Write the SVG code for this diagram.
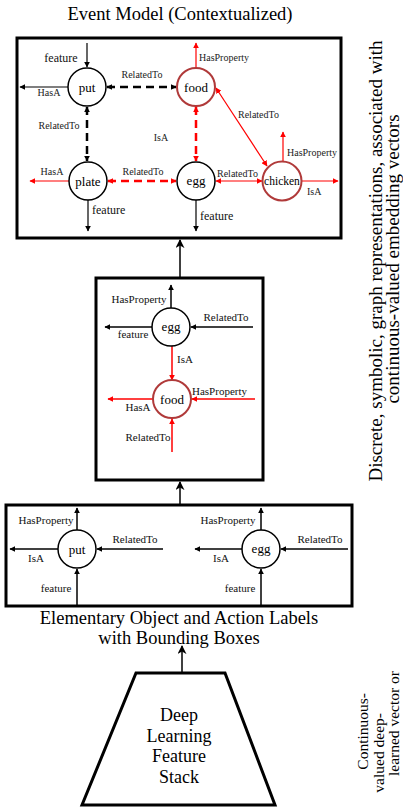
<svg xmlns="http://www.w3.org/2000/svg" width="403" height="808" viewBox="0 0 403 808">
<defs>
<marker id="ab" viewBox="0 0 10 10" refX="9" refY="5" markerWidth="6" markerHeight="6" markerUnits="userSpaceOnUse" orient="auto-start-reverse"><path d="M0,0 L10,5 L0,10 z" fill="#000"/></marker>
<marker id="ar" viewBox="0 0 10 10" refX="9" refY="5" markerWidth="6" markerHeight="6" markerUnits="userSpaceOnUse" orient="auto-start-reverse"><path d="M0,0 L10,5 L0,10 z" fill="#ff0000"/></marker>
<marker id="abig" viewBox="0 0 10 10" refX="9" refY="5" markerWidth="9" markerHeight="9" markerUnits="userSpaceOnUse" orient="auto-start-reverse"><path d="M0,0 L10,5 L0,10 L3,5 z" fill="#000"/></marker>
</defs>
<style>
text{font-family:"Liberation Serif","Times New Roman",serif;fill:#000}
.big{font-size:18.5px;text-anchor:middle}
.nl{font-size:13px;text-anchor:middle}
.el{font-size:10px;fill:#222}
.em{font-size:11px;fill:#111}
.fl{font-size:12px;fill:#111}
.m{text-anchor:middle}
.box{fill:none;stroke:#000;stroke-width:3}
.nb{fill:#fff;stroke:#000;stroke-width:1.5}
.nr{fill:#fff;stroke:#b03a3a;stroke-width:2}
.k{stroke:#000;stroke-width:1.2;fill:none;marker-end:url(#ab)}
.r{stroke:#ff0000;stroke-width:1.2;fill:none;marker-end:url(#ar)}
.r2{stroke:#ff0000;stroke-width:1.2;fill:none;marker-end:url(#ar);marker-start:url(#ar)}
.kd{stroke:#000;stroke-width:2.5;stroke-dasharray:8 5;fill:none;marker-end:url(#ab);marker-start:url(#ab)}
.rd{stroke:#ff0000;stroke-width:2.5;stroke-dasharray:8 5;fill:none;marker-end:url(#ar);marker-start:url(#ar)}
.km{stroke:#000;stroke-width:1.5;fill:none;marker-end:url(#ab)}
.rm{stroke:#ff0000;stroke-width:1.5;fill:none;marker-end:url(#ar)}
.up{stroke:#000;stroke-width:1.5;fill:none;marker-end:url(#abig)}
.side{font-size:15.5px;text-anchor:end}
</style>

<text class="big" x="180" y="20">Event Model (Contextualized)</text>
<rect class="box" x="17" y="38" width="324" height="200"/>
<rect class="box" x="96" y="278" width="167" height="202"/>
<rect class="box" x="6" y="505" width="346" height="101"/>
<polygon class="box" points="136,673 225,673 275,805 82,805"/>

<g id="connectors">
<!-- top box -->
<line class="k" x1="87" y1="43" x2="87" y2="67"/>
<line class="k" x1="68" y1="87" x2="20" y2="87"/>
<line class="kd" x1="107" y1="87" x2="176" y2="87"/>
<line class="kd" x1="87" y1="107" x2="87" y2="161"/>
<line class="r" x1="196" y1="68" x2="196" y2="43"/>
<line class="rd" x1="196" y1="107" x2="196" y2="161"/>
<line class="r2" x1="216" y1="88" x2="267" y2="166"/>
<line class="r" x1="69" y1="181" x2="30" y2="181"/>
<line class="rd" x1="108" y1="181" x2="176" y2="181"/>
<line class="k" x1="88" y1="200" x2="88" y2="231"/>
<line class="k" x1="196" y1="200" x2="196" y2="231"/>
<line class="r2" x1="216" y1="181" x2="262" y2="181"/>
<line class="r" x1="283" y1="162" x2="283" y2="132"/>
<line class="r" x1="302" y1="181" x2="338" y2="181"/>
<!-- between boxes -->
<line class="up" x1="180" y1="278" x2="180" y2="240"/>
<line class="up" x1="180" y1="505" x2="180" y2="482"/>
<line class="up" x1="182" y1="673" x2="182" y2="646"/>
<!-- middle box -->
<line class="km" x1="171" y1="308" x2="171" y2="285"/>
<line class="km" x1="152" y1="327" x2="105" y2="327"/>
<line class="km" x1="253" y1="327" x2="191" y2="327"/>
<line class="rm" x1="172" y1="346" x2="172" y2="380"/>
<line class="rm" x1="153" y1="399" x2="108" y2="399"/>
<line class="rm" x1="255" y1="399" x2="192" y2="399"/>
<line class="rm" x1="172" y1="452" x2="172" y2="419"/>
<!-- bottom box -->
<line class="km" x1="77" y1="530" x2="77" y2="508"/>
<line class="km" x1="58" y1="549" x2="10" y2="549"/>
<line class="km" x1="163" y1="549" x2="97" y2="549"/>
<line class="km" x1="77" y1="605" x2="77" y2="569"/>
<line class="km" x1="261" y1="530" x2="261" y2="508"/>
<line class="km" x1="242" y1="549" x2="195" y2="549"/>
<line class="km" x1="348" y1="549" x2="281" y2="549"/>
<line class="km" x1="261" y1="605" x2="261" y2="569"/>
</g>

<g id="labels">
<text class="fl m" x="61" y="62">feature</text>
<text class="el m" x="49" y="96">HasA</text>
<text class="el m" x="142" y="78">RelatedTo</text>
<text class="el m" x="59" y="129">RelatedTo</text>
<text class="el" x="199" y="61">HasProperty</text>
<text class="el m" x="161" y="141">IsA</text>
<text class="el" x="238" y="118">RelatedTo</text>
<text class="el m" x="52" y="175">HasA</text>
<text class="el m" x="143" y="175">RelatedTo</text>
<text class="fl" x="92" y="214">feature</text>
<text class="fl" x="200" y="220">feature</text>
<text class="el" x="217" y="177">RelatedTo</text>
<text class="el" x="287" y="156">HasProperty</text>
<text class="el" x="307" y="195">IsA</text>

<text class="em m" x="139" y="303">HasProperty</text>
<text class="em m" x="133" y="338">feature</text>
<text class="em m" x="226" y="321">RelatedTo</text>
<text class="em" x="177" y="363">IsA</text>
<text class="em m" x="138" y="411">HasA</text>
<text class="em" x="192" y="395">HasProperty</text>
<text class="em m" x="148" y="441">RelatedTo</text>

<text class="em m" x="46" y="524">HasProperty</text>
<text class="em m" x="36" y="562">IsA</text>
<text class="em m" x="135" y="543">RelatedTo</text>
<text class="em m" x="56" y="592">feature</text>
<text class="em m" x="228" y="524">HasProperty</text>
<text class="em m" x="221" y="562">IsA</text>
<text class="em m" x="320" y="543">RelatedTo</text>
<text class="em m" x="240" y="592">feature</text>
</g>

<g id="node-put-top"><circle class="nb" cx="87" cy="87" r="19"/><text class="nl" x="87" y="92">put</text></g>
<g id="node-food-top"><circle class="nr" cx="196" cy="87" r="19"/><text class="nl" x="196" y="92">food</text></g>
<g id="node-plate-top"><circle class="nb" cx="88" cy="181" r="19"/><text class="nl" x="88" y="186">plate</text></g>
<g id="node-egg-top"><circle class="nb" cx="196" cy="181" r="19"/><text class="nl" x="196" y="185">egg</text></g>
<g id="node-chicken-top"><circle class="nr" cx="282" cy="181" r="19.5"/><text class="nl" x="282" y="185" style="font-size:11.5px">chicken</text></g>

<g id="node-egg-mid"><circle class="nb" cx="171" cy="327" r="19"/><text class="nl" x="171" y="331">egg</text></g>
<g id="node-food-mid"><circle class="nr" cx="172" cy="399" r="19"/><text class="nl" x="172" y="404">food</text></g>

<g id="node-put-bot"><circle class="nb" cx="77" cy="549" r="19"/><text class="nl" x="77" y="554">put</text></g>
<g id="node-egg-bot"><circle class="nb" cx="261" cy="549" r="19"/><text class="nl" x="261" y="553">egg</text></g>

<text class="big" x="179" y="624">Elementary Object and Action Labels</text>
<text class="big" x="179" y="644">with Bounding Boxes</text>

<g id="node-dl-stack">
<text class="big" x="179" y="721" style="font-size:18px">Deep</text>
<text class="big" x="179" y="742" style="font-size:18px">Learning</text>
<text class="big" x="179" y="762" style="font-size:18px">Feature</text>
<text class="big" x="179" y="783" style="font-size:18px">Stack</text>
</g>

<text class="big" style="font-size:19px" transform="translate(382,261) rotate(-90)">Discrete, symbolic, graph representations, associated with</text>
<text class="big" style="font-size:19px" transform="translate(399,259) rotate(-90)">continuous-valued embedding vectors</text>

<text class="side" transform="translate(368,693) rotate(-90)">Continuous-</text>
<text class="side" transform="translate(384,713) rotate(-90)">valued deep-</text>
<text class="side" transform="translate(399,671) rotate(-90)">learned vector or</text>
</svg>
